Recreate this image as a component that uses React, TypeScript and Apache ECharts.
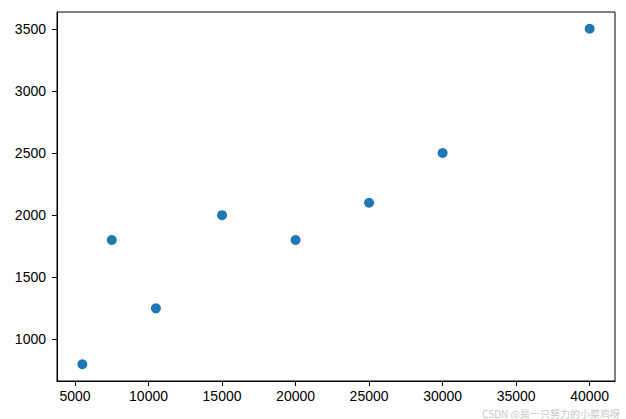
import React, { useEffect, useRef } from "react";
import * as echarts from "echarts";

const xValues = [5500, 7500, 10500, 15000, 20000, 25000, 30000, 40000];
const yValues = [800, 1800, 1250, 2000, 1800, 2100, 2500, 3500];
const xTicks = [5000, 10000, 15000, 20000, 25000, 30000, 35000, 40000];
const yTicks = [1000, 1500, 2000, 2500, 3000, 3500];
const watermark = "CSDN @是一只努力的小菜鸡呀";

export default function App() {
  const ref = useRef<HTMLDivElement>(null);
  useEffect(() => {
    if (!ref.current) return;
    const chart = echarts.init(ref.current, undefined, { renderer: "svg" });
    const font = "'Liberation Sans', Arial, sans-serif";
    chart.setOption({
      animation: false,
      backgroundColor: "#ffffff",
      grid: {
        left: 57,
        right: 11,
        top: 12,
        bottom: 38,
        show: true,
        borderColor: "#000000",
        borderWidth: 1,
        backgroundColor: "transparent",
      },
      xAxis: {
        type: "value",
        min: 3775,
        max: 41725,
        axisLine: { show: true, lineStyle: { color: "#000", width: 1 } },
        axisTick: {
          show: true,
          inside: false,
          length: 5,
          lineStyle: { color: "#000" },
          customValues: xTicks,
        },
        axisLabel: {
          show: true,
          color: "#000",
          fontSize: 14,
          fontFamily: font,
          margin: 8,
          customValues: xTicks,
          formatter: (v: number) => String(v),
        },
        splitLine: { show: false },
      },
      yAxis: {
        type: "value",
        min: 665,
        max: 3635,
        axisLine: { show: true, lineStyle: { color: "#000", width: 1 } },
        axisTick: {
          show: true,
          inside: false,
          length: 5,
          lineStyle: { color: "#000" },
          customValues: yTicks,
        },
        axisLabel: {
          show: true,
          color: "#000",
          fontSize: 14,
          fontFamily: font,
          margin: 11,
          customValues: yTicks,
          formatter: (v: number) => String(v),
        },
        splitLine: { show: false },
      },
      series: [
        {
          type: "scatter",
          data: xValues.map((x, i) => [x, yValues[i]]),
          symbol: "circle",
          symbolSize: 10,
          itemStyle: { color: "#1f77b4", opacity: 1 },
        },
      ],
      graphic: [
        {
          type: "text",
          right: 6,
          bottom: 1,
          style: {
            text: watermark,
            fill: "#c8c8c8",
            fontSize: 10,
            fontFamily: "'Noto Sans CJK SC', sans-serif",
          },
        },
      ],
    });
    return () => chart.dispose();
  }, []);
  return <div ref={ref} style={{ width: 626, height: 419, position: "absolute", left: 0, top: 0 }} />;
}
